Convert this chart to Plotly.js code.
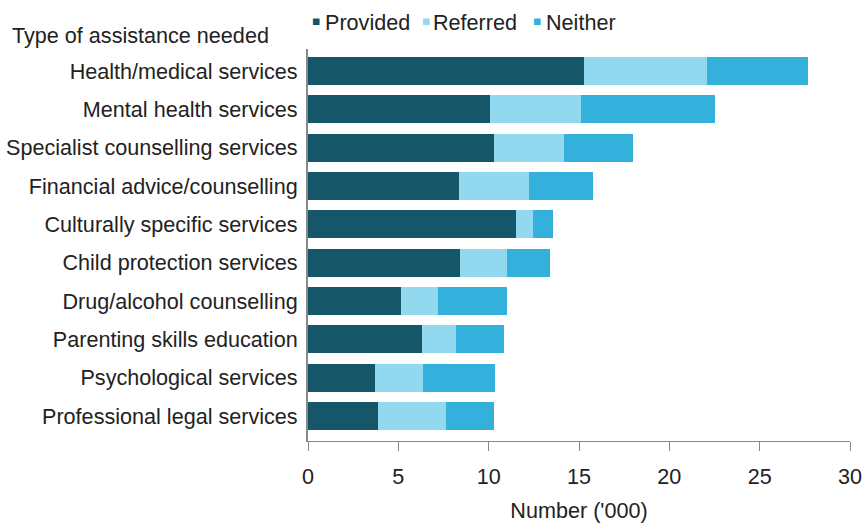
<!DOCTYPE html>
<html>
<head>
<meta charset="utf-8">
<script src="https://cdn.plot.ly/plotly-3.0.1.min.js"></script>
<style>html,body{margin:0;padding:0;background:#fff;}#chart{width:866px;height:526px;}</style>
</head>
<body>
<div id="chart"></div>
<script>
const categories = [
  "Health/medical services",
  "Mental health services",
  "Specialist counselling services",
  "Financial advice/counselling",
  "Culturally specific services",
  "Child protection services",
  "Drug/alcohol counselling",
  "Parenting skills education",
  "Psychological services",
  "Professional legal services"
];
const provided = [15.3, 10.05, 10.3, 8.35, 11.5, 8.4, 5.15, 6.3, 3.7, 3.9];
const referred = [6.8, 5.05, 3.85, 3.9, 0.95, 2.6, 2.05, 1.9, 2.65, 3.75];
const neither  = [5.6, 7.4, 3.85, 3.55, 1.1, 2.4, 3.8, 2.65, 4.0, 2.65];
const seriesNames = ["Provided", "Referred", "Neither"];
const xTicks = [0, 5, 10, 15, 20, 25, 30];

const colors = ["#155669", "#92d8ef", "#33b1dc"];
const font = "Liberation Sans, Arial, sans-serif";
const fs = 21.6;
const txt = "#222222";

// plot area geometry (pixels)
const M = {l: 308, r: 16, t: 49, b: 85};
const plotW = 866 - M.l - M.r;
const plotH = 526 - M.t - M.b;
const px2x = p => (p - M.l) / plotW;
const py2y = p => 1 - (p - M.t) / plotH;

const data = [provided, referred, neither].map((vals, i) => ({
  type: "bar",
  orientation: "h",
  name: seriesNames[i],
  y: categories,
  x: vals,
  marker: {color: colors[i], line: {width: 0}},
  showlegend: false,
  hoverinfo: "x+name"
}));

// legend built as text items (small square swatch + label)
const legendSquareX = [315.5, 425.5, 536.5];
const legendTextX = [325, 433, 546];
const legendAnn = [];
seriesNames.forEach((n, i) => {
  legendAnn.push({
    text: "\u25A0", xref: "paper", yref: "paper",
    x: px2x(legendSquareX[i]), xanchor: "center",
    y: py2y(21.5), yanchor: "middle",
    showarrow: false, borderpad: 0,
    font: {family: font, size: 13.5, color: colors[i]}
  });
  legendAnn.push({
    text: n, xref: "paper", yref: "paper",
    x: px2x(legendTextX[i] - 1), xanchor: "left",
    y: py2y(22.5), yanchor: "middle",
    showarrow: false, borderpad: 0,
    font: {family: font, size: fs, color: txt}
  });
});

const layout = {
  width: 866,
  height: 526,
  paper_bgcolor: "#ffffff",
  plot_bgcolor: "#ffffff",
  margin: M,
  barmode: "stack",
  bargap: 0.27,
  font: {family: font, size: fs, color: txt},
  showlegend: false,
  xaxis: {
    range: [0, 30],
    tickvals: xTicks,
    ticktext: xTicks.map(String),
    showgrid: false,
    zeroline: false,
    showline: true,
    linecolor: "#888888",
    linewidth: 1,
    ticks: "outside",
    ticklen: 9,
    tickcolor: "#888888",
    ticklabelstandoff: 7,
    tickfont: {family: font, size: fs, color: txt},
    title: {text: "Number ('000)", font: {family: font, size: fs, color: txt}, standoff: 14},
    fixedrange: true
  },
  yaxis: {
    type: "category",
    categoryorder: "array",
    categoryarray: categories,
    range: [9.652, -0.574],
    showgrid: false,
    zeroline: false,
    showline: true,
    linecolor: "#888888",
    linewidth: 2,
    ticks: "",
    ticklabelstandoff: 4,
    tickfont: {family: font, size: fs, color: txt},
    fixedrange: true
  },
  annotations: [{
    text: "Type of assistance needed",
    xref: "paper", yref: "paper",
    x: px2x(11), xanchor: "left",
    y: py2y(35.5), yanchor: "middle",
    showarrow: false, borderpad: 0,
    font: {family: font, size: fs, color: txt}
  }].concat(legendAnn)
};

Plotly.newPlot("chart", data, layout, {displayModeBar: false, staticPlot: true});
</script>
</body>
</html>
